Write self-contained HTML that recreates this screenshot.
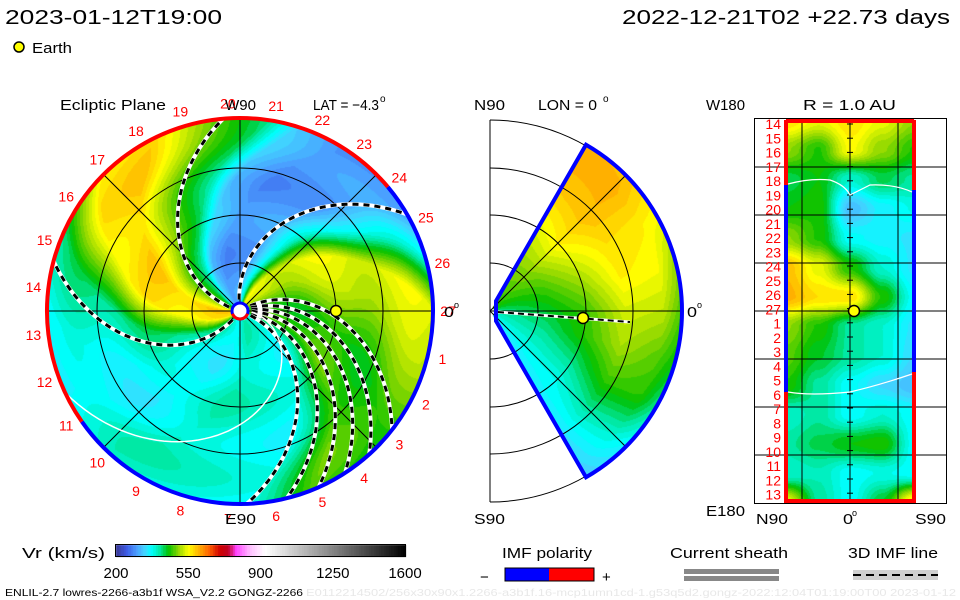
<!DOCTYPE html>
<html><head><meta charset="utf-8"><style>
html,body{margin:0;padding:0;background:#fff;width:960px;height:600px;overflow:hidden}
#root{position:relative;width:960px;height:600px}
canvas{position:absolute;left:0;top:0}
svg{position:absolute;left:0;top:0}
text{font-family:"Liberation Sans",sans-serif}
</style></head><body>
<div id="root">
<canvas id="cv" width="960" height="600"></canvas>
<svg id="sv" width="960" height="600"></svg>
</div>
<script>
// ---- data ----
const cbTicks = [200, 550, 900, 1250, 1600];
const carrLabels = [1,2,3,4,5,6,7,8,9,10,11,12,13,14,15,16,17,18,19,20,21,22,23,24,25,26,27];
const eclPhase = [0,24,50,69,85,100,125,140,150,165,185,205,225,249,270,294,339,360];
const eclSpeed = [480,450,520,540,380,300,290,330,420,480,580,560,420,370,360,400,370,480];
const merLat = [60,45,30,15,0,-15,-30,-45,-60];
const merRad = [0.05,0.3,0.5,0.7,0.9,1.0];
const merSpeed = [
 [470,500,540,580,600,600],
 [460,500,560,590,600,590],
 [450,480,530,570,560,550],
 [430,460,500,560,550,500],
 [410,440,470,530,520,470],
 [400,420,460,510,480,450],
 [390,400,420,470,460,410],
 [370,380,380,410,390,360],
 [340,350,360,350,340,330]];
const mapSpeed = [
 [570,540,570,540,500],
 [500,460,550,500,460],
 [430,450,390,430,410],
 [450,460,320,360,380],
 [500,460,370,360,350],
 [590,540,460,390,350],
 [600,570,570,460,370],
 [500,460,410,390,350],
 [480,440,410,390,340],
 [460,410,370,340,320],
 [390,410,370,390,370],
 [410,430,450,460,370],
 [390,400,370,380,370],
 [540,410,370,440,570]];
const spiralEdges = [95,30,-38,-48,-57,-66,-76,-88,165];

// ---- colormap ----
const cmS=[200,250,300,340,370,410,450,500,550,600,650,700,740,780,850,920,1600];
const cmC=[[58,58,154],[60,90,230],[74,160,255],[64,216,255],[0,255,255],[0,232,160],[0,192,0],[144,216,0],[255,255,0],[255,176,0],[255,96,0],[208,0,0],[192,0,32],[255,64,255],[255,192,255],[255,255,255],[0,0,0]];
function cmap(v){v=Math.round(v/12)*12;if(v<=cmS[0])return cmC[0];
 for(let i=1;i<cmS.length;i++){if(v<=cmS[i]){const t=(v-cmS[i-1])/(cmS[i]-cmS[i-1]);const a=cmC[i-1],b=cmC[i];return [a[0]+(b[0]-a[0])*t,a[1]+(b[1]-a[1])*t,a[2]+(b[2]-a[2])*t];}}
 return cmC[cmC.length-1];}
function interp1(xs,ys,x){for(let i=1;i<xs.length;i++){if(x<=xs[i]){const t=(x-xs[i-1])/(xs[i]-xs[i-1]);return ys[i-1]+(ys[i]-ys[i-1])*t;}}return ys[ys.length-1];}

const cv=document.getElementById('cv');const ctx=cv.getContext('2d');
const img=ctx.createImageData(960,600);const D=img.data;
function put(x,y,c){const i=(y*960+x)*4;D[i]=c[0];D[i+1]=c[1];D[i+2]=c[2];D[i+3]=255;}
// ecliptic
const EX=240,EY=311,ER=193,K=1.2;
for(let y=EY-ER;y<=EY+ER;y++)for(let x=EX-ER;x<=EX+ER;x++){
 const dx=x-EX,dy=EY-y,r=Math.hypot(dx,dy);if(r>ER||r<9)continue;
 let th=Math.atan2(dy,dx)*180/Math.PI;let ph=th+K*(r/ER)*180/Math.PI;ph=((ph%360)+360)%360;
 let v=interp1(eclPhase,eclSpeed,ph)+12*Math.sin(r/12);
 put(x,y,cmap(v));}
// meridional
const MX=490,MY=311,MR=192;
for(let y=MY-MR;y<=MY+MR;y++)for(let x=MX;x<=MX+MR;x++){
 const dx=x-MX,dy=MY-y,r=Math.hypot(dx,dy);if(r>MR||r<4)continue;
 const a=Math.atan2(dy,dx)*180/Math.PI;if(Math.abs(a)>60)continue;
 const rf=r/MR;const ai=(60-a)/15;const i0=Math.min(7,Math.floor(ai)),ta=ai-i0;
 const v0=interp1(merRad,merSpeed[i0],rf),v1=interp1(merRad,merSpeed[i0+1],rf);
 put(x,y,cmap(v0+(v1-v0)*ta));}
// synoptic map
const BX0=786,BX1=914,BY0=120,BY1=502;
for(let y=BY0;y<=BY1;y++)for(let x=BX0;x<=BX1;x++){
 const fx=(x-BX0)/(BX1-BX0)*4,fy=(y-BY0)/(BY1-BY0)*13;
 const i=Math.min(3,Math.floor(fx)),j=Math.min(12,Math.floor(fy));const tx=fx-i,ty=fy-j;
 const s=t=>t*t*(3-2*t);const sx=s(tx),sy=s(ty);
 const v=(mapSpeed[j][i]*(1-sx)+mapSpeed[j][i+1]*sx)*(1-sy)+(mapSpeed[j+1][i]*(1-sx)+mapSpeed[j+1][i+1]*sx)*sy;
 put(x,y,cmap(v));}
// colorbar
for(let x=116;x<=405;x++){const v=200+(x-116)/(405-116)*1400;const c=cmap(v);for(let y=545;y<=556;y++)put(x,y,c);}
ctx.putImageData(img,0,0);

// ---- overlay ----
const NS='http://www.w3.org/2000/svg';const sv=document.getElementById('sv');
function el(tag,attrs,parent){const e=document.createElementNS(NS,tag);for(const k in attrs)e.setAttribute(k,attrs[k]);(parent||sv).appendChild(e);return e;}
function txt(s,x,y,size,fill,anchor,len){const t=el('text',{x:x,y:y,'font-size':size,fill:fill||'#000','text-anchor':anchor||'start'});if(len){t.setAttribute('textLength',len);t.setAttribute('lengthAdjust','spacingAndGlyphs');}t.textContent=s;return t;}
const rad=d=>d*Math.PI/180;

// ecliptic grid
const g1=el('g',{});


[48,96,143].forEach(r=>el('circle',{cx:EX,cy:EY,r:r,fill:'none',stroke:'#000','stroke-width':1},g1));
[0,45,90,135].forEach(a=>el('line',{x1:EX-ER*Math.cos(rad(a)),y1:EY+ER*Math.sin(rad(a)),x2:EX+ER*Math.cos(rad(a)),y2:EY-ER*Math.sin(rad(a)),stroke:'#000','stroke-width':1},g1));
// spirals
spiralEdges.forEach((e,i)=>{let d='';for(let k=0;k<=60;k++){const rf=0.06+0.94*k/60;const th=rad(e)+K*(1-rf);const x=EX+rf*ER*Math.cos(th),y=EY-rf*ER*Math.sin(th);d+=(k?'L':'M')+x.toFixed(1)+','+y.toFixed(1);}
 const p1=el('path',{d:d,fill:'none',stroke:'#fff','stroke-width':4});
 
 
 const p2=el('path',{d:d,fill:'none',stroke:'#000','stroke-width':3,'stroke-dasharray':'6,5'});
 
 });
// current sheet (white)
(function(){let d='';for(let k=0;k<=60;k++){const rf=0.06+0.94*k/60;const th=rad(205)+K*(1-rf)*2.3;const x=EX+rf*ER*Math.cos(th),y=EY-rf*ER*Math.sin(th);d+=(k?'L':'M')+x.toFixed(1)+','+y.toFixed(1);}
 const p=el('path',{d:d,fill:'none',stroke:'#fff','stroke-width':1.5});
 
 })();
// rim
function arc(cx,cy,r,a0,a1){const x0=cx+r*Math.cos(rad(a0)),y0=cy-r*Math.sin(rad(a0)),x1=cx+r*Math.cos(rad(a1)),y1=cy-r*Math.sin(rad(a1));const large=Math.abs(a1-a0)>180?1:0;return `M${x0},${y0}A${r},${r} 0 ${large} 0 ${x1},${y1}`;}
const rr=el('path',{d:arc(EX,EY,ER,40,215),fill:'none',stroke:'#f00','stroke-width':4});


const rb=el('path',{d:arc(EX,EY,ER,215,400),fill:'none',stroke:'#00f','stroke-width':4});


const sun=el('circle',{cx:EX,cy:EY,r:8,fill:'#fff',stroke:'#00f','stroke-width':3});


el('path',{d:arc(EX,EY,8,200,340),fill:'none',stroke:'#f00','stroke-width':3});
const e1=el('circle',{cx:EX+96,cy:EY,r:5.5,fill:'#ff0',stroke:'#000','stroke-width':1.5});


// carrington labels
carrLabels.forEach(n=>{const a=rad((27-n)*360/27);const x=EX+(ER+15)*Math.cos(a),y=EY-(ER+15)*Math.sin(a)+5;
 const t=txt(String(n),x,y,14,'#f00','middle');
 
 });
[["Ecliptic Plane",60,110,106],["W90",225,110,31],["E90",225,524,31],["0",444,317,10]].forEach(a=>{const t=txt(a[0],a[1],a[2],15,'#000','start',a[3]);});
txt("LAT = −4.3",313,110,15,'#000','start',66);
txt("o",380,102,10,'#000');txt("o",454,308,9,'#000');

// meridional
const g2=el('g',{});


[48,96,143,191].forEach(r=>el('path',{d:arc(MX,MY,r,-90,90),fill:'none',stroke:'#000','stroke-width':1},g2));
el('line',{x1:MX,y1:MY-191,x2:MX,y2:MY+191,stroke:'#000'},g2);
el('line',{x1:MX,y1:MY,x2:MX+191,y2:MY,stroke:'#000'},g2);
[45,-45].forEach(a=>el('line',{x1:MX,y1:MY,x2:MX+MR*Math.cos(rad(a)),y2:MY-MR*Math.sin(rad(a)),stroke:'#000'},g2));
const wd=`M${MX+6},${MY-10}L${MX+MR*Math.cos(rad(60))},${MY-MR*Math.sin(rad(60))}A${MR},${MR} 0 0 1 ${MX+MR*Math.cos(rad(-60))},${MY-MR*Math.sin(rad(-60))}L${MX+6},${MY+10}Z`;
const wp=el('path',{d:wd,fill:'none',stroke:'#00f','stroke-width':4});


el('line',{x1:MX+8,y1:MY+1,x2:MX+140,y2:MY+11,stroke:'#fff','stroke-width':3});
el('line',{x1:MX+8,y1:MY+1,x2:MX+140,y2:MY+11,stroke:'#000','stroke-width':2,'stroke-dasharray':'6,4'});
const e2=el('circle',{cx:583,cy:318,r:5.5,fill:'#ff0',stroke:'#000','stroke-width':1.5});


txt("N90",474,110,15,'#000','start',31);txt("LON = 0",538,110,15,'#000','start',59);txt("o",603,102,10,'#000');
txt("S90",474,524,15,'#000','start',31);txt("0",687,317,15,'#000','start',10);txt("o",697,308,9,'#000');

// synoptic
const g3=el('g',{});


el('rect',{x:754.5,y:118.5,width:192,height:385,fill:'none',stroke:'#000'},g3);
[167,215,263,311,359,407,455].forEach(y=>el('line',{x1:754,y1:y,x2:946,y2:y,stroke:'#000'},g3));
[802,850,898].forEach(x=>el('line',{x1:x,y1:119,x2:x,y2:503,stroke:'#000'},g3));
for(let y=124;y<503;y+=14.2)el('line',{x1:847,y1:y,x2:853,y2:y,stroke:'#000'},g3);
const bs=[['#f00',120,185],['#00f',185,392],['#f00',392,503]];
bs.forEach(b=>{el('line',{x1:786,y1:b[1],x2:786,y2:b[2],stroke:b[0],'stroke-width':4},g3);});
[['#f00',120,190],['#00f',190,372],['#f00',372,503]].forEach(b=>{el('line',{x1:914,y1:b[1],x2:914,y2:b[2],stroke:b[0],'stroke-width':4},g3);});
el('line',{x1:786,y1:121,x2:914,y2:121,stroke:'#f00','stroke-width':4},g3);
el('line',{x1:786,y1:501,x2:914,y2:501,stroke:'#f00','stroke-width':4},g3);
el('path',{d:'M788,184 Q810,178 830,180 Q845,185 850,195 Q860,190 870,185 Q895,184 912,192',fill:'none',stroke:'#fff','stroke-width':1.2},g3);
el('path',{d:'M788,392 Q810,396 850,392 Q880,385 912,374',fill:'none',stroke:'#fff','stroke-width':1.2},g3);
const e3=el('circle',{cx:854,cy:311,r:5.5,fill:'#ff0',stroke:'#000','stroke-width':1.5});


const order=[14,15,16,17,18,19,20,21,22,23,24,25,26,27,1,2,3,4,5,6,7,8,9,10,11,12,13];
order.forEach((n,i)=>{const t=txt(String(n),781,129+i*14.25,14,'#f00','end');});
txt("W180",706,110,15,'#000','start',39);txt("R = 1.0 AU",803,110,15,'#000','start',93);
txt("E180",706,516,15,'#000','start',39);txt("N90",756,524,15,'#000','start',32);
txt("0",843,524,15,'#000','start',10);txt("o",852,516,9,'#000');txt("S90",915,524,15,'#000','start',31);

// header
txt("2023-01-12T19:00",5,24,20,'#000','start',217);
txt("2022-12-21T02 +22.73 days",622,24,20,'#000','start',328);
el('circle',{cx:19,cy:47,r:5,fill:'#ff0',stroke:'#000','stroke-width':1.5});
txt("Earth",32,53,15,'#000','start',40);

// colorbar
const cbr=el('rect',{x:115.5,y:544.5,width:290,height:12,fill:'none',stroke:'#000'});


txt("Vr (km/s)",22,558,15,'#000','start',83);
cbTicks.forEach(v=>{const x=116+(v-200)/1400*289;const t=txt(String(v),x,578,15,'#000','middle');});
// legends
txt("IMF polarity",502,558,15,'#000','start',90);
el('rect',{x:505,y:568,width:44,height:13,fill:'#00f'});el('rect',{x:549,y:568,width:45,height:13,fill:'#f00'});
el('rect',{x:505,y:568,width:89,height:13,fill:'none',stroke:'#000'});
txt("−",480,582,15);txt("+",602,582,15);
txt("Current sheath",670,558,15,'#000','start',118);
el('rect',{x:684,y:569,width:95,height:5,fill:'#888'});el('rect',{x:684,y:576,width:95,height:5,fill:'#888'});
txt("3D IMF line",848,558,15,'#000','start',90);
el('rect',{x:853,y:570,width:85,height:10,fill:'#d0d0d0'});
el('line',{x1:853,y1:575,x2:938,y2:575,stroke:'#000','stroke-width':2,'stroke-dasharray':'8,5'});
txt("ENLIL-2.7 lowres-2266-a3b1f WSA_V2.2 GONGZ-2266",5,596,10,'#000','start',298);
txt("E0112214502/256x30x90x1.2266-a3b1f.16-mcp1umn1cd-1.g53q5d2.gongz-2022:12:04T01:19:00T00    2023-01-12",306,596,10,'#e8e8e8','start',650);
</script>
</body></html>
